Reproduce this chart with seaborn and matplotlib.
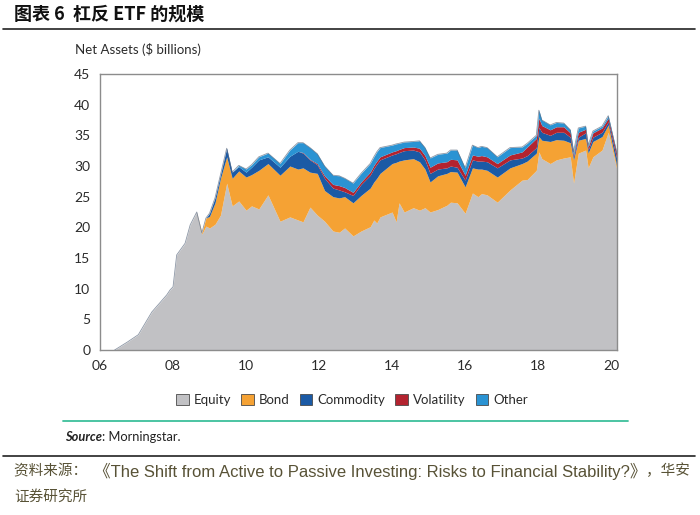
import numpy as np
import pandas as pd
import matplotlib
matplotlib.use("Agg")
import matplotlib.pyplot as plt
from matplotlib.patches import Patch
from matplotlib import font_manager
import seaborn as sns

# ---------------- data ----------------
years = [2006.40, 2006.75, 2007.05, 2007.25, 2007.42, 2007.64, 2007.83, 2007.92, 2008.00, 2008.10,
         2008.33, 2008.47, 2008.65, 2008.79, 2008.90, 2009.00, 2009.15, 2009.30, 2009.47, 2009.62,
         2009.80, 2010.00, 2010.15, 2010.35, 2010.60, 2010.93, 2011.20, 2011.42, 2011.56, 2011.75,
         2011.95, 2012.15, 2012.38, 2012.55, 2012.70, 2012.93, 2013.15, 2013.40, 2013.50, 2013.58,
         2013.67, 2014.00, 2014.11, 2014.19, 2014.33, 2014.58, 2014.75, 2014.90, 2015.04, 2015.25,
         2015.50, 2015.60, 2015.78, 2016.00, 2016.20, 2016.35, 2016.45, 2016.60, 2016.88, 2017.23,
         2017.56, 2017.70, 2017.95, 2018.02, 2018.10, 2018.33, 2018.50, 2018.70, 2018.88, 2018.97,
         2019.10, 2019.30, 2019.37, 2019.50, 2019.75, 2019.92, 2020.16]

equity = [0.0, 1.3, 2.5, 4.5, 6.2, 7.7, 9.0, 9.8, 10.3, 15.5,
          17.4, 20.4, 22.5, 18.9, 20.2, 19.9, 20.5, 22.0, 27.2, 23.5,
          24.3, 22.8, 23.5, 23.0, 25.3, 21.0, 21.7, 21.2, 20.9, 23.3,
          22.0, 21.0, 19.4, 19.2, 19.9, 18.6, 19.4, 20.1, 21.2, 20.7,
          21.7, 22.5, 20.9, 24.0, 22.5, 23.2, 22.8, 23.2, 22.5, 22.9,
          23.6, 24.1, 24.0, 22.3, 25.6, 25.0, 25.5, 25.3, 24.1, 26.1,
          27.7, 27.8, 29.3, 32.3, 31.2, 30.4, 31.0, 31.3, 31.5, 27.2,
          32.1, 32.6, 29.7, 31.5, 32.6, 35.5, 29.3]

bond = [0.0, 0.0, 0.0, 0.0, 0.0, 0.0, 0.0, 0.0, 0.0, 0.0,
        0.0, 0.0, 0.0, 0.2, 1.3, 1.9, 3.5, 6.0, 4.3, 4.5,
        4.9, 5.4, 5.1, 6.3, 5.1, 7.5, 8.3, 8.3, 8.8, 5.7,
        6.8, 5.0, 5.6, 5.6, 5.1, 5.4, 5.8, 6.3, 6.2, 7.3,
        7.1, 7.9, 9.7, 6.8, 8.5, 8.0, 7.9, 6.3, 4.9, 5.5,
        5.2, 5.0, 5.0, 4.3, 4.1, 4.5, 4.0, 4.0, 4.1, 3.6,
        2.7, 3.0, 2.8, 2.5, 3.0, 3.6, 3.3, 2.9, 2.3, 3.8,
        2.1, 1.9, 2.4, 2.5, 2.2, 1.2, 0.5]

commodity = [0.0, 0.0, 0.0, 0.0, 0.0, 0.0, 0.0, 0.0, 0.0, 0.0,
             0.0, 0.0, 0.0, 0.0, 0.0, 0.5, 0.8, 0.6, 1.4, 1.0,
             0.7, 0.8, 1.2, 1.7, 1.1, 1.3, 1.6, 2.9, 2.4, 2.0,
             1.4, 2.0, 1.4, 1.3, 0.8, 1.2, 1.8, 2.1, 2.2, 2.3,
             2.2, 1.4, 1.4, 1.4, 1.5, 1.4, 1.6, 1.5, 1.4, 1.1,
             0.9, 0.9, 0.8, 1.1, 1.3, 1.3, 1.3, 1.4, 1.5, 1.3,
             0.9, 0.9, 0.9, 1.5, 1.3, 1.0, 1.2, 1.3, 0.9, 0.5,
             0.5, 0.9, 0.5, 0.7, 0.7, 0.5, 1.2]

volatility = [0.0, 0.0, 0.0, 0.0, 0.0, 0.0, 0.0, 0.0, 0.0, 0.0,
              0.0, 0.0, 0.0, 0.0, 0.0, 0.0, 0.0, 0.0, 0.0, 0.0,
              0.0, 0.0, 0.0, 0.0, 0.0, 0.0, 0.0, 0.0, 0.1, 0.1,
              0.2, 0.4, 0.6, 0.7, 0.7, 0.5, 0.4, 0.5, 0.5, 0.5,
              0.5, 0.5, 0.5, 0.5, 0.5, 0.5, 0.6, 0.7, 1.0, 1.0,
              1.0, 1.1, 1.2, 0.8, 0.8, 0.8, 0.9, 0.8, 0.7, 0.8,
              1.0, 1.4, 1.5, 1.5, 1.1, 0.9, 0.9, 0.9, 0.7, 0.3,
              0.8, 0.6, 0.5, 0.7, 0.7, 0.6, 0.8]

other = [0.0, 0.0, 0.0, 0.0, 0.0, 0.0, 0.0, 0.0, 0.0, 0.0,
         0.0, 0.0, 0.0, 0.0, 0.0, 0.0, 0.0, 0.0, 0.0, 0.0,
         0.2, 0.5, 0.4, 0.5, 0.6, 0.6, 1.0, 1.4, 1.6, 1.9,
         1.6, 1.6, 1.5, 1.6, 1.5, 1.5, 1.4, 1.4, 1.4, 1.5,
         1.5, 1.1, 1.1, 1.0, 0.9, 0.9, 1.2, 1.3, 1.5, 1.4,
         1.4, 1.5, 1.6, 1.2, 1.6, 1.4, 1.5, 1.5, 1.1, 1.2,
         0.8, 0.6, 0.5, 1.3, 0.9, 0.8, 0.7, 0.6, 0.5, 0.5,
         0.7, 0.5, 0.3, 0.3, 0.3, 0.4, 0.2]

series_names = ["Equity", "Bond", "Commodity", "Volatility", "Other"]
series_colors = ["#c1c1c4", "#f5a234", "#1b5aa5", "#b3232f", "#2a93d3"]
x_tick_years = [2006, 2008, 2010, 2012, 2014, 2016, 2018, 2020]
x_tick_labels = ["06", "08", "10", "12", "14", "16", "18", "20"]
y_ticks = [0, 5, 10, 15, 20, 25, 30, 35, 40, 45]

title_text = "图表 6  杠反 ETF 的规模"
ylabel_text = "Net Assets ($ billions)"
source_label = "Source"
source_text = ": Morningstar."
footer_cn1 = "资料来源：  "
footer_en = "《The Shift from Active to Passive Investing: Risks to Financial Stability?》"
footer_cn2 = "，华安"
footer_line2 = "证券研究所"

# ---------------- style ----------------
sns.set_theme(style="white")
available = {f.name for f in font_manager.fontManager.ttflist}
latin = "Lato" if "Lato" in available else "DejaVu Sans"
narrow = "Liberation Sans Narrow" if "Liberation Sans Narrow" in available else "Liberation Sans"
plt.rcParams["font.family"] = [latin, "Noto Sans CJK SC", "DejaVu Sans"]

df = pd.DataFrame({"year": years, "Equity": equity, "Bond": bond, "Commodity": commodity,
                   "Volatility": volatility, "Other": other})
df["total"] = df[series_names].sum(axis=1)

fig = plt.figure(figsize=(7.0, 5.15), dpi=100)
ax = fig.add_axes([100 / 700, 1 - 350 / 515, 517 / 700, 276 / 515])

ax.stackplot(df["year"], *[df[n] for n in series_names], colors=series_colors,
             linewidth=0, zorder=2)
sns.lineplot(data=df, x="year", y="total", ax=ax, color="#5d6b80", linewidth=0.6,
             alpha=0.7, zorder=3, legend=False)

ax.set_xlim(2006, 2020.16)
ax.set_ylim(0, 45)
ax.set_xticks(x_tick_years)
ax.set_xticklabels(x_tick_labels)
ax.set_yticks(y_ticks)
ax.set_xlabel("")
ax.set_ylabel("")
for s in ax.spines.values():
    s.set_color("#8c8c8c")
    s.set_linewidth(1.0)
    s.set_visible(True)
ax.tick_params(axis="both", which="both", direction="in", length=3, width=0.8,
               color="#8c8c8c", labelsize=10, labelcolor="#2b2b2b")
ax.tick_params(axis="y", pad=7)
ax.tick_params(axis="x", pad=7)

# axis title
fig.text(75 / 700, 1 - 50 / 515, ylabel_text, fontsize=9.5, color="#2b2b2b",
         ha="left", va="center")

# title and rules
fig.text(14 / 700, 1 - 14 / 515, title_text, fontsize=13, fontweight="bold",
         family=["Noto Sans CJK SC", "DejaVu Sans"], color="#111111", ha="left", va="center")
fig.add_artist(plt.Line2D([3 / 700, 695 / 700], [1 - 29 / 515, 1 - 29 / 515],
                          color="#222222", linewidth=1.2))

# legend
handles = [Patch(facecolor=c, edgecolor="#4a4a4a", linewidth=0.6, label=n)
           for n, c in zip(series_names, series_colors)]
fig.legend(handles=handles, loc="center", bbox_to_anchor=(352 / 700, 1 - 400 / 515),
           ncol=5, frameon=False, fontsize=9.5, handlelength=0.95, handleheight=0.95,
           handletextpad=0.4, columnspacing=0.75, labelcolor="#2b2b2b")

# teal rule and source
fig.add_artist(plt.Line2D([63 / 700, 628 / 700], [1 - 421 / 515, 1 - 421 / 515],
                          color="#3dbf9b", linewidth=1.3))
t1 = fig.text(65 / 700, 1 - 437 / 515, source_label, fontsize=9.3, fontstyle="italic",
              fontweight="bold", color="#222222", ha="left", va="center")
fig.canvas.draw()
bb = t1.get_window_extent()
fig.text(bb.x1 / 700, 1 - 437 / 515, source_text, fontsize=9.3, color="#222222",
         ha="left", va="center")

# black rule and footer
fig.add_artist(plt.Line2D([3 / 700, 695 / 700], [1 - 456 / 515, 1 - 456 / 515],
                          color="#222222", linewidth=1.2))
fcol = "#585236"
f1 = fig.text(14 / 700, 1 - 471 / 515, footer_cn1, fontsize=10.5, color=fcol,
              family=["Noto Sans CJK SC", "DejaVu Sans"], ha="left", va="center")
fig.canvas.draw()
b1 = f1.get_window_extent()
f2 = fig.text(b1.x1 / 700, 1 - 471 / 515, footer_en, fontsize=12, color=fcol,
              family=[narrow, "Noto Sans CJK SC"], ha="left", va="center")
fig.canvas.draw()
b2 = f2.get_window_extent()
fig.text(b2.x1 / 700, 1 - 471 / 515, footer_cn2, fontsize=10.5, color=fcol,
         family=["Noto Sans CJK SC", "DejaVu Sans"], ha="left", va="center")
fig.text(14 / 700, 1 - 497 / 515, footer_line2, fontsize=10.5, color=fcol,
         family=["Noto Sans CJK SC", "DejaVu Sans"], ha="left", va="center")

fig.savefig("out.png", dpi=100)
